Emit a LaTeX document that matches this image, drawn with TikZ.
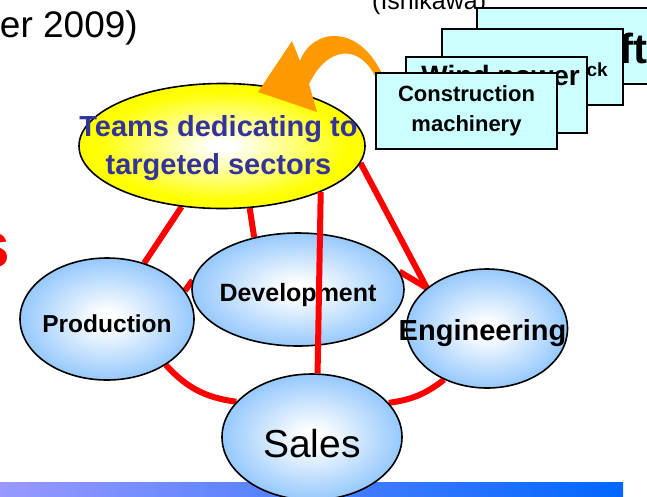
\documentclass[tikz,border=0pt]{standalone}
\usepackage{fontspec}
\setmainfont{Liberation Sans}
\usetikzlibrary{shapes.geometric,backgrounds}

\definecolor{linkred}{RGB}{255,0,0}
\definecolor{teamblue}{RGB}{51,51,153}
\definecolor{ballblue}{RGB}{145,198,252}
\definecolor{teamyellow}{RGB}{255,255,0}
\definecolor{sectorcyan}{RGB}{204,255,255}
\definecolor{arroworange}{RGB}{255,153,0}
\definecolor{barleft}{RGB}{153,153,255}
\definecolor{barright}{RGB}{0,102,255}

\pgfdeclareradialshading{ballglow}{\pgfpointorigin}{color(0bp)=(white); color(3bp)=(white); color(26bp)=(ballblue); color(50bp)=(ballblue)}
\pgfdeclareradialshading{teamglow}{\pgfpointorigin}{color(0bp)=(white); color(2bp)=(white); color(22bp)=(teamyellow); color(50bp)=(teamyellow)}

\begin{document}
\begin{tikzpicture}[x=1pt,y=-1pt,
		ball/.style={ellipse,draw=black,line width=1.6pt,shading=ballglow,inner sep=0pt},
		sectorbox/.style={rectangle,draw=black,line width=2pt,fill=sectorcyan,minimum width=181pt,minimum height=76pt,inner sep=0pt,align=center},
		link/.style={linkred,line width=6pt},
		plain/.style={inner sep=0pt}]
	\useasboundingbox (0,0) rectangle (647,496);
	
	\node[plain,anchor=base east,font=\fontsize{37}{37}\selectfont] (yearlabel) at (138,37) {er 2009)};
	\node[plain,anchor=base west,font=\fontsize{25}{25}\selectfont] (authorlabel) at (372,9.5) {(Ishikawa)};
	\node[plain,anchor=base east,text=linkred,font=\bfseries\fontsize{64}{64}\selectfont] (redlabel) at (10,267) {s};
	
	\shade[left color=barleft,right color=barright] (0,482) rectangle (623,496);
	
	% team in the middle, four functions round it
	\node[ellipse,draw=black,line width=1.6pt,shading=teamglow,inner sep=0pt,minimum width=286pt,minimum height=125pt] (team) at (222,146) {};
	\node[plain,align=center,text=teamblue,font=\bfseries\fontsize{29}{38}\selectfont] (teamlabel) at ([xshift=-3.5pt,yshift=-2.5pt]team.center) {Teams dedicating to\\targeted sectors};
	
	\node[ball,minimum width=174pt,minimum height=122pt] (prod) at (107,319) {};
	\node[ball,minimum width=212pt,minimum height=113pt] (dev) at (298,289.5) {};
	\node[ball,minimum width=161pt,minimum height=119pt] (eng) at (487,328.5) {};
	\node[ball,minimum width=180pt,minimum height=126pt] (sales) at (312,437) {};
	
	\node[plain,anchor=base,font=\bfseries\fontsize{24.5}{24.5}\selectfont] (prodlabel) at ([yshift=-13pt]prod.center) {Production};
	\node[plain,anchor=base,font=\bfseries\fontsize{25}{25}\selectfont] (devlabel) at ([yshift=-11.5pt]dev.center) {Development};
	\node[plain,anchor=base,font=\bfseries\fontsize{29}{29}\selectfont] (englabel) at ([xshift=-4.5pt,yshift=-11.5pt]eng.center) {Engineering};
	\node[plain,anchor=base,font=\fontsize{39}{39}\selectfont] (saleslabel) at ([yshift=-20pt]sales.center) {Sales};
	
	\draw[link] (team.-25) -- (sales.85);
	
	\begin{scope}[on background layer]
		\draw[link] (team) -- (prod);
		\draw[link] (team.-66) -- (dev.130);
		\draw[link] (team.-7) -- (eng.146);
		\draw[link] (prod.20) -- (dev.175);
		\draw[link] (dev.10) -- (eng.146);
		\draw[link] (eng.230) to[bend left=15] (sales.24);
		\draw[link] (sales.155) to[bend left=20] (prod.-38);
	\end{scope}
	
	% bent arrow from the sectors back to the team
	\fill[arroworange] (258,92) -- (292,41) -- (300,61) .. controls (312,28) and (360,22) .. (384,78) -- (376,78) .. controls (360,44) and (328,45) .. (309,84) -- (317,112) -- cycle;
	
	% stack of sector cards
	\node[sectorbox] (craft) at (567.5,45.5) {};
	\node[plain,anchor=base west,font=\bfseries\fontsize{42}{42}\selectfont] (craftlabel) at (619,63) {ft};
	\node[sectorbox] (truck) at (532.5,67) {};
	\node[plain,anchor=base east,font=\bfseries\fontsize{19}{19}\selectfont] (trucklabel) at (608,76) {ck};
	\node[sectorbox] (wind) at (496.5,94.5) {};
	\node[plain,anchor=base east,font=\bfseries\fontsize{28}{28}\selectfont] (windlabel) at (580,85) {Wind power};
	\node[sectorbox,font=\bfseries\fontsize{22}{30}\selectfont] (cm) at (466.5,111) {Construction\\machinery};
\end{tikzpicture}
\end{document}
